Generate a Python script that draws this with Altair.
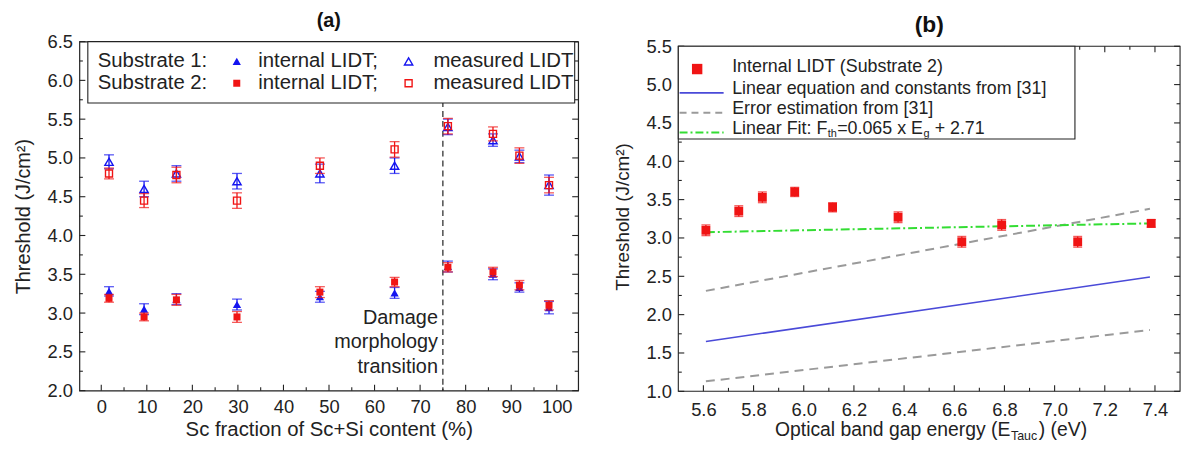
import altair as alt
import pandas as pd

FONT = "Liberation Sans"
INK = "#222222"
BLUE = "#1414f0"
RED = "#f01414"

# ---------------- Panel (a) data ----------------
sc_fraction = [1.7, 9.4, 16.5, 29.8, 48.0, 64.4, 76.1, 86.0, 91.8, 98.3]
s1_internal = [3.28, 3.05, 3.18, 3.11, 3.21, 3.26, 3.60, 3.50, 3.33, 3.07]
s1_internal_err = [0.06, 0.07, 0.07, 0.07, 0.07, 0.07, 0.07, 0.07, 0.06, 0.08]
s1_measured = [4.95, 4.60, 4.80, 4.70, 4.80, 4.90, 5.40, 5.23, 5.02, 4.65]
s1_measured_err = [0.09, 0.10, 0.10, 0.10, 0.12, 0.10, 0.10, 0.08, 0.08, 0.13]
s2_internal = [3.19, 2.95, 3.17, 2.95, 3.27, 3.40, 3.59, 3.53, 3.36, 3.10]
s2_internal_err = [0.05, 0.05, 0.07, 0.07, 0.07, 0.06, 0.06, 0.06, 0.06, 0.06]
s2_measured = [4.80, 4.45, 4.78, 4.45, 4.90, 5.11, 5.41, 5.31, 5.03, 4.65]
s2_measured_err = [0.07, 0.09, 0.10, 0.10, 0.10, 0.10, 0.10, 0.09, 0.10, 0.10]
transition_at = [75]
transition_lines = ["Damage", "morphology", "transition"]
transition_lines_y = [2.93, 2.62, 2.31]

a_x_domain = [-4.8, 104.7]
a_y_domain = [2.0, 6.5]
a_x_major = [0, 10, 20, 30, 40, 50, 60, 70, 80, 90, 100]
a_x_minor = [5, 15, 25, 35, 45, 55, 65, 75, 85, 95]
a_y_major = [2.0, 2.5, 3.0, 3.5, 4.0, 4.5, 5.0, 5.5, 6.0, 6.5]
a_y_minor = [2.25, 2.75, 3.25, 3.75, 4.25, 4.75, 5.25, 5.75, 6.25]

# ---------------- Panel (b) data ----------------
band_gap = [5.61, 5.741, 5.835, 5.964, 6.115, 6.376, 6.63, 6.789, 7.092, 7.385]
internal_lidt = [3.10, 3.35, 3.53, 3.60, 3.40, 3.27, 2.95, 3.17, 2.95, 3.19]
internal_lidt_err = [0.07, 0.07, 0.07, 0.06, 0.06, 0.07, 0.07, 0.07, 0.07, 0.05]
line_gap = [5.61, 7.38]
lit_linear = [1.65, 2.49]
lit_err_upper = [2.31, 3.38]
lit_err_lower = [1.13, 1.80]
linear_fit = [3.075, 3.19]

b_x_domain = [5.5, 7.5]
b_y_range = [1.0, 5.5]
b_x_major = [5.6, 5.8, 6.0, 6.2, 6.4, 6.6, 6.8, 7.0, 7.2, 7.4]
b_x_minor = [5.7, 5.9, 6.1, 6.3, 6.5, 6.7, 6.9, 7.1, 7.3]
b_y_major = [1.0, 1.5, 2.0, 2.5, 3.0, 3.5, 4.0, 4.5, 5.0, 5.5]
b_y_minor = [1.25, 1.75, 2.25, 2.75, 3.25, 3.75, 4.25, 4.75, 5.25]

A_W, A_H = 503, 352
B_W, B_H = 506, 352.7
B_TOP = 4.7  # panel (b) frame starts slightly lower than panel (a)


def err_df(xv, vals, errs):
    return pd.DataFrame({
        "x": xv, "y": vals,
        "lo": [v - e for v, e in zip(vals, errs)],
        "hi": [v + e for v, e in zip(vals, errs)],
    })


def label_axes(df, xs, ys, xlab, ylab):
    return alt.Chart(df).mark_point(opacity=0, size=1).encode(
        x=alt.X("x", type="quantitative", scale=xs, axis=xlab),
        y=alt.Y("y", type="quantitative", scale=ys, axis=ylab))


def tick_rules(xs, ys, W, H, top, xmaj, xmin, ymaj, ymin, big=6, small=3.5):
    out = []
    for vals, ln in ((xmaj, big), (xmin, small)):
        d = alt.Chart(pd.DataFrame({"v": vals}))
        X = alt.X("v", type="quantitative", scale=xs, axis=None)
        out.append(d.mark_rule(color=INK, strokeWidth=1.1).encode(
            x=X, y=alt.value(H), y2=alt.value(H - ln)))
        out.append(d.mark_rule(color=INK, strokeWidth=1.1).encode(
            x=X, y=alt.value(top), y2=alt.value(top + ln)))
    for vals, ln in ((ymaj, big), (ymin, small)):
        d = alt.Chart(pd.DataFrame({"v": vals}))
        Y = alt.Y("v", type="quantitative", scale=ys, axis=None)
        out.append(d.mark_rule(color=INK, strokeWidth=1.1).encode(
            y=Y, x=alt.value(0), x2=alt.value(ln)))
        out.append(d.mark_rule(color=INK, strokeWidth=1.1).encode(
            y=Y, x=alt.value(W), x2=alt.value(W - ln)))
    return out


def series(df, xs, ys, color, shape, filled, size, cap):
    X = alt.X("x", type="quantitative", scale=xs, axis=None)
    base = alt.Chart(df)
    return [
        base.mark_rule(color=color, strokeWidth=1.3).encode(
            x=X, y=alt.Y("lo", type="quantitative", scale=ys, axis=None), y2="hi"),
        base.mark_tick(color=color, orient="horizontal", size=cap, thickness=1.3).encode(
            x=X, y=alt.Y("lo", type="quantitative", scale=ys, axis=None)),
        base.mark_tick(color=color, orient="horizontal", size=cap, thickness=1.3).encode(
            x=X, y=alt.Y("hi", type="quantitative", scale=ys, axis=None)),
        base.mark_point(shape=shape, filled=filled, size=size, color=color, opacity=1,
                        strokeWidth=1.4).encode(
            x=X, y=alt.Y("y", type="quantitative", scale=ys, axis=None)),
    ]


one = pd.DataFrame({"k": [0]})


def px_text(txt, x, y, size, align="left", color=INK):
    return alt.Chart(one).mark_text(font=FONT, fontSize=size, align=align, baseline="middle",
                                    color=color).encode(
        x=alt.value(x), y=alt.value(y), text=alt.value(txt))


def px_symbol(shape, filled, color, size, x, y):
    return alt.Chart(one).mark_point(shape=shape, filled=filled, color=color, size=size,
                                     opacity=1, strokeWidth=1.4).encode(
        x=alt.value(x), y=alt.value(y))


def px_box(x, x2, y, y2, fill="white"):
    return alt.Chart(one).mark_rect(fill=fill, stroke=INK, strokeWidth=1.1).encode(
        x=alt.value(x), x2=alt.value(x2), y=alt.value(y), y2=alt.value(y2))


def px_line(x, x2, y, color, width, dash=None):
    kw = dict(color=color, strokeWidth=width)
    if dash:
        kw["strokeDash"] = dash
    return alt.Chart(one).mark_rule(**kw).encode(
        x=alt.value(x), x2=alt.value(x2), y=alt.value(y))


# ================= Panel (a) =================
xa = alt.Scale(domain=a_x_domain, nice=False, zero=False)
ya = alt.Scale(domain=a_y_domain, nice=False, zero=False)
dfa_axes = pd.DataFrame({"x": [0], "y": [3.0]})

a_xlab = alt.Axis(orient="bottom", values=a_x_major, ticks=False, domain=False, grid=False,
                  labelFont=FONT, labelFontSize=18.5, labelColor=INK, labelPadding=7,
                  title="Sc fraction of Sc+Si content (%)", titleFont=FONT, titleFontSize=20.5,
                  titleFontWeight="normal", titleColor=INK, titlePadding=4)
a_ylab = alt.Axis(orient="left", values=a_y_major, format=".1f", ticks=False, domain=False,
                  grid=False, labelFont=FONT, labelFontSize=18.5, labelColor=INK, labelPadding=7,
                  title="Threshold (J/cm²)", titleFont=FONT, titleFontSize=20,
                  titleFontWeight="normal", titleColor=INK, titlePadding=14)

a_layers = [label_axes(dfa_axes, xa, ya, a_xlab, a_ylab)]
a_layers += tick_rules(xa, ya, A_W, A_H, 0, a_x_major, a_x_minor, a_y_major, a_y_minor)

df_tr = pd.DataFrame({"x": transition_at})
a_layers.append(alt.Chart(df_tr).mark_rule(color=INK, strokeWidth=1.2, strokeDash=[6, 4]).encode(
    x=alt.X("x", type="quantitative", scale=xa, axis=None), y=alt.value(0), y2=alt.value(A_H)))
df_trt = pd.DataFrame({"x": transition_at * 3, "y": transition_lines_y, "t": transition_lines})
a_layers.append(alt.Chart(df_trt).mark_text(font=FONT, fontSize=20, align="right", baseline="middle",
                                            dx=-5, color=INK).encode(
    x=alt.X("x", type="quantitative", scale=xa, axis=None),
    y=alt.Y("y", type="quantitative", scale=ya, axis=None), text="t:N"))

a_layers += series(err_df(sc_fraction, s1_measured, s1_measured_err), xa, ya, BLUE, "triangle-up", False, 70, 10)
a_layers += series(err_df(sc_fraction, s1_internal, s1_internal_err), xa, ya, BLUE, "triangle-up", True, 70, 10)
a_layers += series(err_df(sc_fraction, s2_measured, s2_measured_err), xa, ya, RED, "square", False, 50, 10)
a_layers += series(err_df(sc_fraction, s2_internal, s2_internal_err), xa, ya, RED, "square", True, 50, 10)

# legend (a)
a_layers += [
    px_box(8.5, 499.5, 0, 62),
    px_text("Substrate 1:", 18.5, 20, 20.5),
    px_text("Substrate 2:", 18.5, 42, 20.5),
    px_symbol("triangle-up", True, BLUE, 70, 158.7, 20),
    px_symbol("square", True, RED, 50, 158.7, 42),
    px_text("internal LIDT;", 180.3, 20, 20.5),
    px_text("internal LIDT;", 180.3, 42, 20.5),
    px_symbol("triangle-up", False, BLUE, 70, 332, 20),
    px_symbol("square", False, RED, 50, 332, 42),
    px_text("measured LIDT", 357, 20, 20.5),
    px_text("measured LIDT", 357, 42, 20.5),
]

panel_a = alt.layer(*a_layers).resolve_axis(x="independent", y="independent").properties(
    width=A_W, height=A_H,
    title=alt.TitleParams("(a)", font=FONT, fontSize=20, fontWeight="bold", color="#111111",
                          anchor="middle", frame="group", offset=2))

# ================= Panel (b) =================
b_y_top = b_y_range[1] + B_TOP * (b_y_range[1] - b_y_range[0]) / (B_H - B_TOP)
xb = alt.Scale(domain=b_x_domain, nice=False, zero=False)
yb = alt.Scale(domain=[b_y_range[0], b_y_top], nice=False, zero=False)
dfb_axes = pd.DataFrame({"x": [6.0], "y": [3.0]})

b_xlab = alt.Axis(orient="bottom", values=b_x_major, format=".1f", ticks=False, domain=False,
                  grid=False, labelFont=FONT, labelFontSize=18.5, labelColor=INK, labelPadding=9,
                  title=None)
b_ylab = alt.Axis(orient="left", values=b_y_major, format=".1f", ticks=False, domain=False,
                  grid=False, labelFont=FONT, labelFontSize=18.5, labelColor=INK, labelPadding=7,
                  title="Threshold (J/cm²)", titleFont=FONT, titleFontSize=19,
                  titleFontWeight="normal", titleColor=INK, titlePadding=14)

b_layers = [label_axes(dfb_axes, xb, yb, b_xlab, b_ylab)]
b_layers += tick_rules(xb, yb, B_W, B_H, B_TOP, b_x_major, b_x_minor, b_y_major, b_y_minor)


def line_layer(yvals, color, width, dash=None):
    kw = dict(color=color, strokeWidth=width)
    if dash:
        kw["strokeDash"] = dash
    df = pd.DataFrame({"x": line_gap, "y": yvals})
    return alt.Chart(df).mark_line(**kw).encode(
        x=alt.X("x", type="quantitative", scale=xb, axis=None),
        y=alt.Y("y", type="quantitative", scale=yb, axis=None))


GRAY = "#9a9a9a"
GREEN = "#33dd33"
LBLUE = "#4a4ad8"
b_layers += [
    line_layer(lit_err_upper, GRAY, 2, [9, 6]),
    line_layer(lit_err_lower, GRAY, 2, [9, 6]),
    line_layer(lit_linear, LBLUE, 1.6),
    line_layer(linear_fit, GREEN, 2, [9, 3, 2, 3]),
]
b_layers += series(err_df(band_gap, internal_lidt, internal_lidt_err), xb, yb, RED, "square", True, 80, 9)

# frame (b)
b_layers.append(px_box(0, B_W, B_TOP, B_H, fill="transparent"))

# legend (b)
LS = 18
T = B_TOP
b_layers += [
    px_box(0, 400, T, T + 93.5),
    px_symbol("square", True, RED, 110, 19, T + 23),
    px_line(1.3, 45.7, T + 47, LBLUE, 1.6),
    px_line(1.3, 45.7, T + 67, GRAY, 2, [7, 5]),
    px_line(1.3, 45.7, T + 87, GREEN, 2, [8, 3, 2, 3]),
    px_text("Internal LIDT (Substrate 2)", 54.3, T + 21, LS),
    px_text("Linear equation and constants from [31]", 54.3, T + 43.5, LS),
    px_text("Error estimation from [31]", 54.3, T + 63.5, LS),
    px_text("Linear Fit: F", 54.3, T + 83.5, LS),
    px_text("th", 150.8, T + 88.5, 11),
    px_text("=0.065 x E", 160.2, T + 83.5, LS),
    px_text("g", 247.2, T + 88.5, 11),
    px_text("+ 2.71", 258.5, T + 83.5, LS),
]

# x title (b) with subscript
TY = B_H + 39.5
b_layers += [
    px_text("Optical band gap energy (E", 97.5, TY, 19.5),
    px_text("Tauc", 335.5, TY + 6, 12.5),
    px_text(") (eV)", 363.5, TY, 19.5),
]

panel_b = alt.layer(*b_layers).resolve_axis(x="independent", y="independent").properties(
    width=B_W, height=B_H,
    view=alt.ViewBackground(stroke="transparent"),
    title=alt.TitleParams("(b)", font=FONT, fontSize=23, fontWeight="bold", color="#111111",
                          anchor="middle", frame="group", offset=0))

chart = alt.concat(panel_a, panel_b, columns=2, spacing=32, align="none").properties(
    padding={"left": 4, "top": 0, "right": 4, "bottom": 4}
).configure_view(stroke=INK, strokeWidth=1.2).configure_axis(grid=False)

chart.save("out.html", embed_options={"renderer": "svg", "actions": False})
